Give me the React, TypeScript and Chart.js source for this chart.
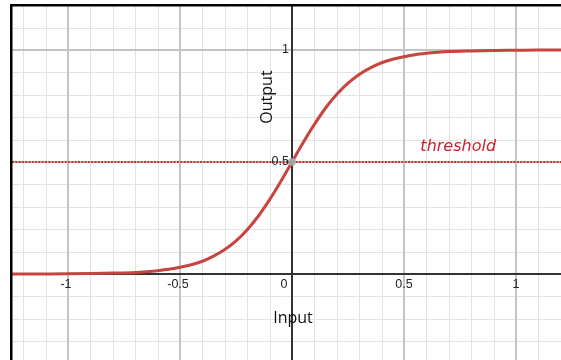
import React, { useEffect, useRef } from "react";
import { Chart, registerables } from "chart.js";
Chart.register(...registerables);

const inputValues = [-1.3, -1.2, -1.1, -1.0, -0.9, -0.8, -0.7, -0.65, -0.6, -0.55, -0.5, -0.45, -0.4, -0.35, -0.3, -0.25, -0.2, -0.15, -0.1, -0.05, 0, 0.05, 0.1, 0.15, 0.2, 0.25, 0.3, 0.35, 0.4, 0.45, 0.5, 0.55, 0.6, 0.65, 0.7, 0.8, 0.9, 1.0, 1.1, 1.2, 1.3];
const outputValues = [0.0001, 0.0002, 0.0005, 0.001, 0.002, 0.004, 0.007, 0.0105, 0.015, 0.021, 0.03, 0.041, 0.057, 0.08, 0.109, 0.148, 0.198, 0.259, 0.332, 0.413, 0.5, 0.587, 0.668, 0.741, 0.802, 0.852, 0.891, 0.92, 0.943, 0.959, 0.97, 0.979, 0.985, 0.9895, 0.993, 0.996, 0.998, 0.999, 1.0, 1.0, 1.0];
const thresholdValue = 0.5;
const thresholdLabel = "threshold";
const xTickValues = [-1, -0.5, 0, 0.5, 1];
const xTickLabels = ["-1", "-0.5", "0", "0.5", "1"];
const yTickValues = [0.5, 1];
const yTickLabels = ["0.5", "1"];
const xTitle = "Input";
const yTitle = "Output";

const X_MIN = -1.25;
const X_MAX = 1.2009;
const Y_MIN = -0.3839;
const Y_MAX = 1.1964;
const GRID_STEP = 0.1;

function isMultiple(v: number, step: number) {
  const r = v / step;
  return Math.abs(r - Math.round(r)) < 1e-6;
}

function gridValues(min: number, max: number) {
  const out: number[] = [];
  const start = Math.ceil(min / GRID_STEP - 1e-9);
  const end = Math.floor(max / GRID_STEP + 1e-9);
  for (let k = start; k <= end; k++) out.push(Math.round(k * GRID_STEP * 1000) / 1000);
  return out;
}

const gridPlugin = {
  id: "desmosGrid",
  beforeDatasetsDraw(chart: any) {
    const ctx = chart.ctx;
    const a = chart.chartArea;
    const xs = chart.scales.x;
    const ys = chart.scales.y;
    ctx.save();
    ctx.beginPath();
    ctx.rect(a.left, a.top, a.right - a.left, a.bottom - a.top);
    ctx.clip();
    const passes = [
      { test: (v: number) => !isMultiple(v, 0.5), color: "#e3e3e3", width: 1 },
      { test: (v: number) => isMultiple(v, 0.5) && Math.abs(v) > 1e-9, color: "#c3c3c3", width: 2 },
      { test: (v: number) => Math.abs(v) < 1e-9, color: "#333333", width: 2 },
    ];
    passes.forEach((p) => {
      ctx.strokeStyle = p.color;
      ctx.lineWidth = p.width;
      const off = p.width % 2 === 1 ? 0.5 : 0;
      gridValues(X_MIN, X_MAX).forEach((v) => {
        if (!p.test(v)) return;
        const px = Math.round(xs.getPixelForValue(v)) + off;
        ctx.beginPath();
        ctx.moveTo(px, a.top);
        ctx.lineTo(px, a.bottom);
        ctx.stroke();
      });
      gridValues(Y_MIN, Y_MAX).forEach((v) => {
        if (!p.test(v)) return;
        const py = Math.round(ys.getPixelForValue(v)) + off;
        ctx.beginPath();
        ctx.moveTo(a.left, py);
        ctx.lineTo(a.right, py);
        ctx.stroke();
      });
    });
    ctx.restore();
  },
  afterDraw(chart: any) {
    const ctx = chart.ctx;
    const xs = chart.scales.x;
    const ys = chart.scales.y;
    const x0 = xs.getPixelForValue(0);
    const y0 = ys.getPixelForValue(0);
    ctx.save();
    ctx.fillStyle = "#222";
    ctx.font = "12.5px 'Liberation Sans', Arial, sans-serif";
    ctx.textBaseline = "middle";
    ctx.textAlign = "center";
    xTickValues.forEach((v, i) => {
      const px = xs.getPixelForValue(v);
      if (v === 0) {
        ctx.fillText(xTickLabels[i], x0 - 8, y0 + 11);
      } else {
        ctx.fillText(xTickLabels[i], px - (v < 0 ? 2 : 0), y0 + 11);
      }
    });
    ctx.textAlign = "right";
    yTickValues.forEach((v, i) => {
      const py = ys.getPixelForValue(v);
      ctx.fillText(yTickLabels[i], x0 - 3, py);
    });
    ctx.fillStyle = "#111";
    ctx.font = "500 16px 'Open Sans', sans-serif";
    ctx.textAlign = "center";
    ctx.fillText(xTitle, x0 + 1, y0 + 44);
    ctx.save();
    ctx.translate(x0 - 25, ys.getPixelForValue(0.79));
    ctx.rotate(-Math.PI / 2);
    ctx.fillText(yTitle, 0, 0);
    ctx.restore();
    ctx.fillStyle = "#d0202c";
    ctx.font = "oblique 16px 'DejaVu Sans', sans-serif";
    ctx.fillText(thresholdLabel, xs.getPixelForValue(0.742), ys.getPixelForValue(0.568));
    ctx.fillStyle = "#000";
    ctx.fillRect(10, 4, chart.width - 10, 2.5);
    ctx.fillRect(10, 4, 2.5, chart.height - 4);
    ctx.restore();
  },
};

export default function App() {
  const ref = useRef<HTMLCanvasElement | null>(null);
  useEffect(() => {
    if (!ref.current) return;
    const chart = new Chart(ref.current, {
      type: "scatter",
      data: {
        datasets: [
          {
            data: [{ x: 0, y: thresholdValue }],
            pointRadius: 4,
            pointBackgroundColor: "rgba(170,170,170,0.85)",
            pointBorderWidth: 0,
            showLine: false,
            order: 0,
          },
          {
            data: inputValues.map((x, i) => ({ x, y: outputValues[i] })),
            showLine: true,
            borderColor: "#c74440",
            borderWidth: 3,
            pointRadius: 0,
            cubicInterpolationMode: "monotone",
            order: 1,
          },
          {
            data: [
              { x: X_MIN, y: thresholdValue },
              { x: X_MAX, y: thresholdValue },
            ],
            showLine: true,
            borderColor: "#d42a2a",
            borderWidth: 2,
            borderDash: [2, 1.3],
            pointRadius: 0,
            order: 2,
          },
        ],
      },
      options: {
        responsive: false,
        animation: false,
        layout: { autoPadding: false, padding: { left: 12, top: 6, right: 0, bottom: 0 } },
        plugins: { legend: { display: false }, tooltip: { enabled: false } },
        scales: {
          x: { type: "linear", display: false, min: X_MIN, max: X_MAX },
          y: { type: "linear", display: false, min: Y_MIN, max: Y_MAX },
        },
      },
      plugins: [gridPlugin],
    });
    return () => chart.destroy();
  }, []);
  return (
    <div style={{ position: "absolute", left: 0, top: 0, width: 561, height: 360, background: "#fff" }}>
      <canvas ref={ref} width={561} height={360} style={{ display: "block" }} />
    </div>
  );
}
